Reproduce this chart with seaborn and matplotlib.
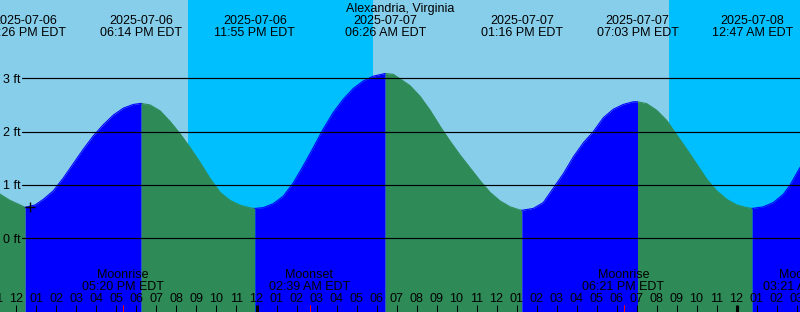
import numpy as np
import pandas as pd
import matplotlib
matplotlib.use("Agg")
import matplotlib.pyplot as plt
from matplotlib import transforms
import seaborn as sns

# ---------------- data (hours since 2025-07-06 00:00 EDT) ----------------
title = "Alexandria, Virginia"

# tide height (hour, ft)
curve_hours = [11.10, 11.18, 11.68, 12.18, 12.93, 13.34, 13.84, 14.34, 14.84,
               15.34, 15.84, 16.34, 16.84, 17.34, 17.84, 18.68, 19.18, 19.68,
               20.18, 20.68, 21.18, 21.68, 22.18, 22.68, 23.18, 23.68, 24.34,
               24.84, 25.34, 25.84, 26.34, 26.84, 27.34, 27.84, 28.34, 28.84,
               29.34, 29.84, 30.84, 31.18, 31.68, 32.18, 32.68, 33.18, 33.68,
               34.18, 34.68, 35.18, 35.68, 36.18, 36.68, 37.18, 37.84, 38.34,
               38.84, 39.34, 39.84, 40.34, 40.84, 41.34, 41.84, 42.34, 42.84,
               43.51, 44.01, 44.51, 45.01, 45.51, 46.01, 46.51, 47.01, 47.51,
               48.01, 48.51, 49.34, 49.84, 50.34, 50.68, 51.18, 51.25]
curve_ft = [0.87, 0.825, 0.71, 0.625, 0.625, 0.73, 0.89, 1.13, 1.40,
            1.67, 1.92, 2.13, 2.31, 2.44, 2.51, 2.50, 2.39, 2.19,
            1.96, 1.70, 1.42, 1.12, 0.86, 0.71, 0.62, 0.57, 0.575,
            0.65, 0.79, 1.04, 1.36, 1.70, 2.05, 2.36, 2.61, 2.81,
            2.95, 3.04, 3.075, 2.99, 2.86, 2.66, 2.40, 2.10, 1.82,
            1.56, 1.32, 1.08, 0.86, 0.70, 0.59, 0.53, 0.56, 0.67,
            0.94, 1.21, 1.525, 1.79, 2.00, 2.26, 2.42, 2.51, 2.56,
            2.525, 2.40, 2.21, 1.94, 1.67, 1.39, 1.11, 0.89, 0.73,
            0.625, 0.575, 0.59, 0.67, 0.825, 1.00, 1.33, 1.37]

# high / low tide events
event_hours = [12 + 26/60, 18 + 14/60, 23 + 55/60, 30 + 26/60,
               37 + 16/60, 43 + 3/60, 48 + 47/60]
event_ft = [0.58, 2.53, 0.56, 3.09, 0.525, 2.56, 0.56]
event_dates = ["2025-07-06", "2025-07-06", "2025-07-06", "2025-07-07",
               "2025-07-07", "2025-07-07", "2025-07-08"]
event_times = ["12:26 PM EDT", "06:14 PM EDT", "11:55 PM EDT", "06:26 AM EDT",
               "01:16 PM EDT", "07:03 PM EDT", "12:47 AM EDT"]

# moon events
moon_hours = [17 + 20/60, 26 + 39/60, 42 + 21/60, 51 + 21/60]
moon_names = ["Moonrise", "Moonset", "Moonrise", "Moonset"]
moon_times = ["05:20 PM EDT", "02:39 AM EDT", "06:21 PM EDT", "03:21 AM EDT"]

# night intervals (sunset -> sunrise)
sunset_hours = [20 + 36/60, 44 + 36/60]
sunrise_hours = [29 + 50/60, 53 + 50/60]

# current time marker
now_hour = 12 + 40/60
now_ft = 0.58

y_levels = [0, 1, 2, 3]

# ---------------- style / layout ----------------
W, H = 800, 312
PX_HR = 20.0
PX_FT = 53.33
X_LEFT = 12 - 16.5 / PX_HR
Y_TOP = 238.3 / PX_FT
Y_BOT = -(H - 238.3) / PX_FT

DAY = "#87CEEB"
NIGHT = "#00BFFF"
RISE = "#0000FF"
FALL = "#2E8B57"

sns.set_theme(style="white")
plt.rcParams["font.family"] = ["Liberation Sans", "DejaVu Sans"]
plt.rcParams["text.color"] = "black"
FS = 9

fig = plt.figure(figsize=(W / 100, H / 100), dpi=100)
ax = fig.add_axes([0, 0, 1, 1])
ax.set_xlim(X_LEFT, X_LEFT + W / PX_HR)
ax.set_ylim(Y_BOT, Y_TOP)
ax.axis("off")

def fy(py):
    """pixel row -> axes fraction"""
    return 1 - py / H

blend = transforms.blended_transform_factory(ax.transData, ax.transAxes)
blend_y = transforms.blended_transform_factory(ax.transAxes, ax.transData)

# background
ax.axvspan(X_LEFT - 5, X_LEFT + 50, color=DAY, lw=0, zorder=0)
for s, r in zip(sunset_hours, sunrise_hours):
    ax.axvspan(s, r, color=NIGHT, lw=0, zorder=0.5)

# tide curve
df = pd.concat([pd.DataFrame({"hour": curve_hours, "ft": curve_ft}),
                pd.DataFrame({"hour": event_hours, "ft": event_ft})])
df = df.sort_values("hour").reset_index(drop=True)

bounds = [df.hour.min()] + event_hours + [df.hour.max()]
segs = []
for i in range(len(bounds) - 1):
    a, b = bounds[i], bounds[i + 1]
    seg = df[(df.hour >= a) & (df.hour <= b)].copy()
    rising = seg.ft.iloc[-1] > seg.ft.iloc[0]
    seg["phase"] = "rise" if rising else "fall"
    seg["seg"] = i
    segs.append(seg)
    ax.fill_between(seg.hour, seg.ft, Y_BOT - 1, color=RISE if rising else FALL,
                    lw=0, zorder=1)
long = pd.concat(segs)
sns.lineplot(data=long, x="hour", y="ft", hue="phase", units="seg",
             estimator=None, sort=False, palette={"rise": RISE, "fall": FALL},
             linewidth=0.8, legend=False, ax=ax, zorder=1.5)

# horizontal grid lines and labels
for lv in y_levels:
    ax.plot([22 / W, 1], [lv, lv], color="black", lw=0.85,
            transform=blend_y, zorder=2)
    ax.text(3 / W, lv, f"{lv} ft", fontsize=FS, color="black", ha="left",
            va="baseline",
            transform=transforms.offset_copy(blend_y, fig, y=-4.5 * 0.72,
                                             units="points"),
            zorder=3)

# now marker
sns.scatterplot(x=[now_hour], y=[now_ft], marker="+", s=60, color="black",
                linewidth=1.0, ax=ax, zorder=4)

# title and event labels
ax.text(0.5, fy(11.7), title, fontsize=FS, color="black", ha="center",
        va="baseline", transform=ax.transAxes, zorder=3)
for t, d, c in zip(event_hours, event_dates, event_times):
    ax.text(t, fy(24), d, fontsize=FS, color="black", ha="center",
            va="baseline", transform=blend, zorder=3)
    ax.text(t, fy(36), c, fontsize=FS, color="black", ha="center",
            va="baseline", transform=blend, zorder=3)

# moon labels
for t, n, c in zip(moon_hours, moon_names, moon_times):
    ax.text(t, fy(278), n, fontsize=FS, color="black", ha="center",
            va="baseline", transform=blend, zorder=3)
    ax.text(t, fy(290), c, fontsize=FS, color="black", ha="center",
            va="baseline", transform=blend, zorder=3)
    ax.plot([t, t], [fy(304.5), fy(312)], color="red", lw=0.72,
            transform=blend, zorder=3)

# hour ticks and labels
for hr in range(10, 54):
    h12 = hr % 12
    lab = f"{12 if h12 == 0 else h12:02d}"
    ax.text(hr, fy(302), lab, fontsize=FS, color="black", ha="center",
            va="baseline", transform=blend, zorder=3)
    midnight = hr % 24 == 0
    ax.plot([hr, hr], [fy(305), fy(312.5)], color="black",
            lw=2.2 if midnight else 0.72, solid_capstyle="butt",
            transform=blend, zorder=3)

fig.savefig("out.png", dpi=100)
